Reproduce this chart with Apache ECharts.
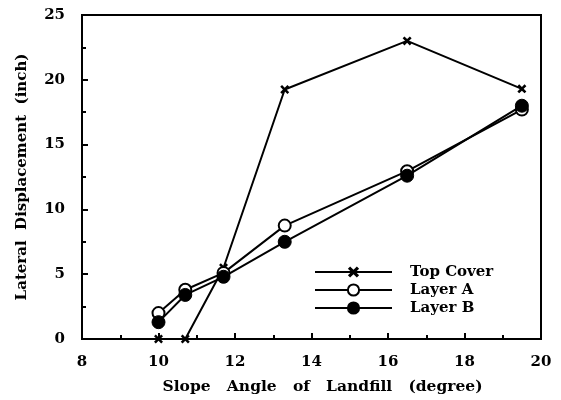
<!DOCTYPE html>
<html><head><meta charset="utf-8">
<script src="https://cdn.jsdelivr.net/npm/echarts@6/dist/echarts.min.js"></script>
<style>html,body{margin:0;padding:0;background:#fff}#c{width:561px;height:400px}</style>
</head><body><div id="c"></div>
<script>
const seriesNames = ['Top Cover', 'Layer A', 'Layer B'];
const topCoverX = [10, 10.7, 11.7, 13.3, 16.5, 19.5];
const topCoverY = [0, 0, 5.5, 19.25, 23, 19.3];
const layerAX = [10, 10.7, 11.7, 13.3, 16.5, 19.5];
const layerAY = [2.0, 3.8, 5.1, 8.75, 12.95, 17.7];
const layerBX = [10, 10.7, 11.7, 13.3, 16.5, 19.5];
const layerBY = [1.3, 3.4, 4.8, 7.5, 12.6, 18.0];
const xTitle = 'Slope   Angle   of   Landfill   (degree)';
const yTitle = 'Lateral  Displacement  (inch)';

const zip = (xs, ys) => xs.map((x, i) => [x, ys[i]]);
const crossPath = 'path://M0,2 L2,0 L5,3 L8,0 L10,2 L7,5 L10,8 L8,10 L5,7 L2,10 L0,8 L3,5Z';
const font = 'DejaVu Serif';
const chart = echarts.init(document.getElementById('c'));
chart.setOption({
  animation: false,
  backgroundColor: '#fff',
  grid: {left: 82, right: 20, top: 15, bottom: 61, show: true, borderColor: '#000', borderWidth: 2},
  legend: {
    left: 309, top: 258, orient: 'vertical', itemGap: 0, itemWidth: 77, itemHeight: 14,
    textStyle: {fontFamily: font, fontSize: 15, fontWeight: 'bold', color: '#000', lineHeight: 18, padding: [0,0,0,13]},
    data: seriesNames
  },
  xAxis: {
    type: 'value', min: 8, max: 20, interval: 2,
    name: xTitle, nameLocation: 'middle', nameGap: 40,
    nameTextStyle: {fontFamily: font, fontSize: 15.5, fontWeight: 'bold', color: '#000', padding: [0,0,0,22]},
    axisLine: {lineStyle: {color: '#000', width: 2}},
    axisTick: {inside: true, length: 6, lineStyle: {color: '#000', width: 2}},
    minorTick: {show: true, splitNumber: 2, length: 4, lineStyle: {color: '#000', width: 2}},
    axisLabel: {fontFamily: font, fontSize: 15, fontWeight: 'bold', color: '#000', margin: 16},
    splitLine: {show: false}
  },
  yAxis: {
    type: 'value', min: 0, max: 25, interval: 5,
    name: yTitle, nameLocation: 'middle', nameGap: 52,
    nameTextStyle: {fontFamily: font, fontSize: 15, fontWeight: 'bold', color: '#000'},
    axisLine: {lineStyle: {color: '#000', width: 2}},
    axisTick: {inside: true, length: 6, lineStyle: {color: '#000', width: 2}},
    minorTick: {show: true, splitNumber: 2, length: 4, lineStyle: {color: '#000', width: 2}},
    axisLabel: {fontFamily: font, fontSize: 15, fontWeight: 'bold', color: '#000', margin: 17},
    splitLine: {show: false}
  },
  series: [
    {name: seriesNames[0], type: 'line', data: zip(topCoverX, topCoverY), symbol: crossPath, symbolSize: 9,
     itemStyle: {color: '#000'}, lineStyle: {color: '#000', width: 2}},
    {name: seriesNames[1], type: 'line', data: zip(layerAX, layerAY), symbol: 'circle', symbolSize: 12,
     itemStyle: {color: '#fff', borderColor: '#000', borderWidth: 2}, lineStyle: {color: '#000', width: 2}},
    {name: seriesNames[2], type: 'line', data: zip(layerBX, layerBY), symbol: 'circle', symbolSize: 13,
     itemStyle: {color: '#000', borderColor: '#000', borderWidth: 1}, lineStyle: {color: '#000', width: 2}}
  ]
});
</script></body></html>
